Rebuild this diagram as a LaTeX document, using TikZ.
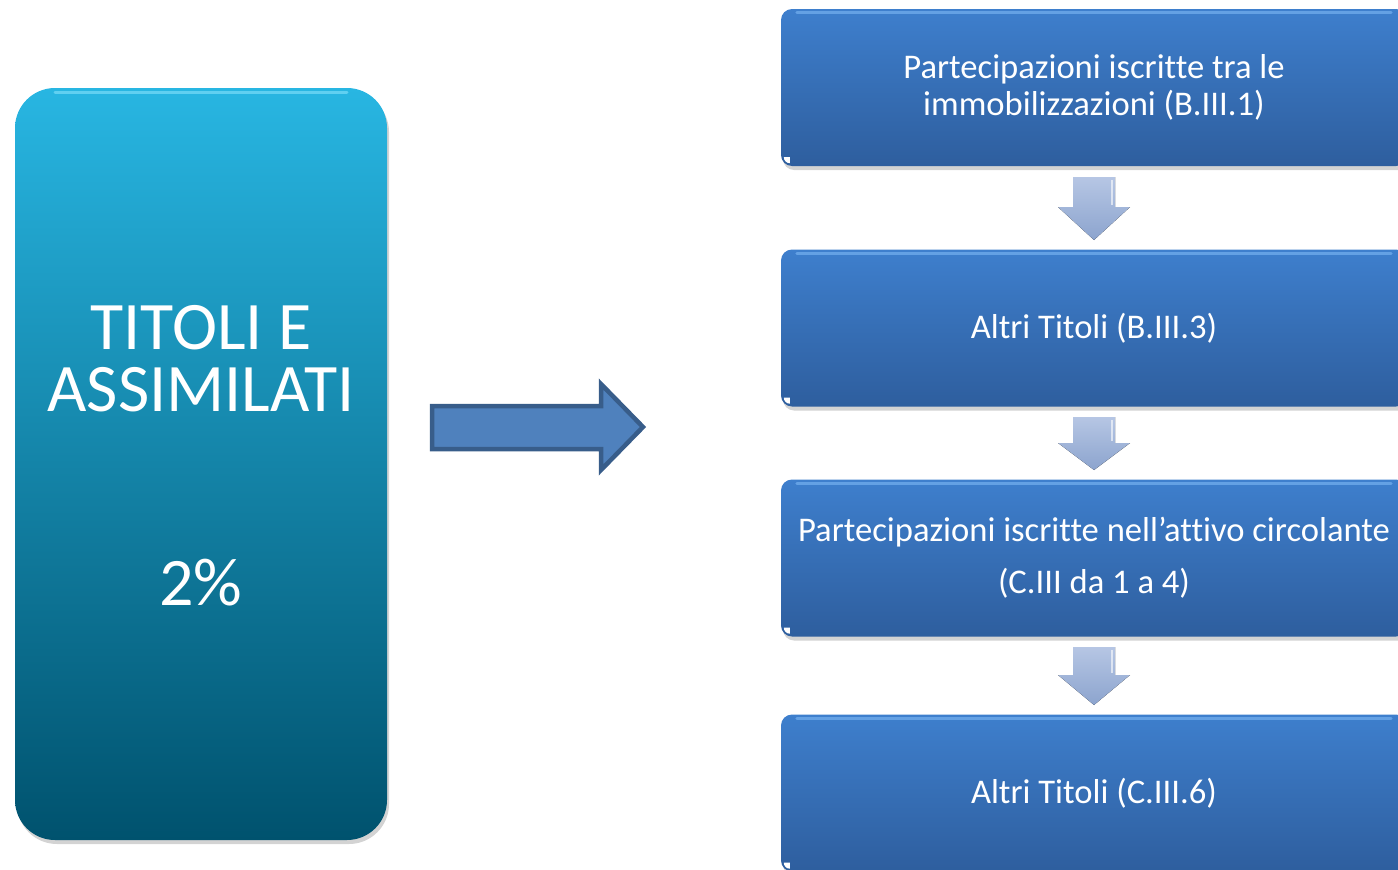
\documentclass[tikz,border=0pt]{standalone}
\usepackage{fontspec}
\setmainfont{Carlito}[Ligatures=NoCommon]
\usetikzlibrary{shadows}
\definecolor{ltop}{RGB}{40,182,226}
\definecolor{lbot}{RGB}{0,82,110}
\definecolor{lhl}{RGB}{110,215,245}
\definecolor{rtop}{RGB}{62,127,205}
\definecolor{rbot}{RGB}{46,94,158}
\definecolor{rhl}{RGB}{110,170,235}
\definecolor{arrfill}{RGB}{79,129,189}
\definecolor{arrline}{RGB}{56,93,138}
\definecolor{dtop}{RGB}{182,198,228}
\definecolor{dbot}{RGB}{140,164,206}
\newcommand\dnarrow[4]{% top, headstart, tip, name
  \fill[darrow] (1073,#1) -- (1115,#1) -- (1115,#2) -- (1130,#2) -- (1094,#3) coordinate (#4) -- (1058,#2) -- (1073,#2) -- cycle;
  \draw[white,opacity=0.6,line width=1.2pt] (1112,{#1+3}) -- (1112,{#2-2});
}
\begin{document}
\begin{tikzpicture}[x=1pt,y=-1pt,
  leftbox/.style={top color=ltop,bottom color=lbot,rounded corners=40pt,
    minimum width=372pt,minimum height=752pt,inner sep=0pt,
    drop shadow={shadow xshift=2pt,shadow yshift=-4pt,opacity=0.35}},
  rightbox/.style={top color=rtop,bottom color=rbot,rounded corners=11pt,
    minimum width=626pt,minimum height=157pt,inner sep=0pt,text=white,
    align=center,font=\fontsize{34.6}{36}\selectfont,
    drop shadow={shadow xshift=2pt,shadow yshift=-4pt,opacity=0.35}},
  bigtxt/.style={text=white,align=center,font=\fontsize{68}{62}\selectfont},
  bigarrow/.style={fill=arrfill,draw=arrline,line width=4.5pt,miter limit=10},
  darrow/.style={top color=dtop,bottom color=dbot},
  hlline/.style={line width=3pt,line cap=round}
]
\useasboundingbox (0,0) rectangle (1398,870);
\clip (0,0) rectangle (1398,870);
% left box
\node[leftbox] (tit) at (201,464) {};
\draw[hlline,lhl,opacity=0.8] (55,92) -- (347,92);
\node[bigtxt] (titt) at (201,359) {TITOLI E\\ASSIMILATI};
\node[bigtxt] (pct) at (201,583) {2\%};
% big arrow
\draw[bigarrow] (432,406) -- (601,406) -- (601,384) -- (643,427) -- (601,470) -- (601,449) -- (432,449) -- cycle;
% right boxes
\node[rightbox] (b1) at (1094,87.5) {Partecipazioni iscritte tra le\\[1.5pt]immobilizzazioni (B.III.1)};
\node[rightbox] (b2) at (1094,328) {Altri Titoli (B.III.3)};
\node[rightbox] (b3) at (1094,558) {Partecipazioni iscritte nell’attivo circolante\\[16pt](C.III da 1 a 4)};
\node[rightbox] (b4) at (1094,793) {Altri Titoli (C.III.6)};
\foreach \b in {b1,b2,b3,b4}{
  \draw[hlline,rhl,opacity=0.8] ([xshift=16pt,yshift=-4pt]\b.north west) -- ([xshift=-16pt,yshift=-4pt]\b.north east);
  \fill[white] ([xshift=3pt,yshift=9pt]\b.south west) -- ([xshift=9pt,yshift=9pt]\b.south west) -- ([xshift=9pt,yshift=3pt]\b.south west) arc[start angle=-90,end angle=-180,radius=6pt] -- cycle;
}
% down arrows
\dnarrow{177}{207}{240}{a1}
\dnarrow{417}{443}{470}{a2}
\dnarrow{647}{675}{705}{a3}
\end{tikzpicture}
\end{document}
